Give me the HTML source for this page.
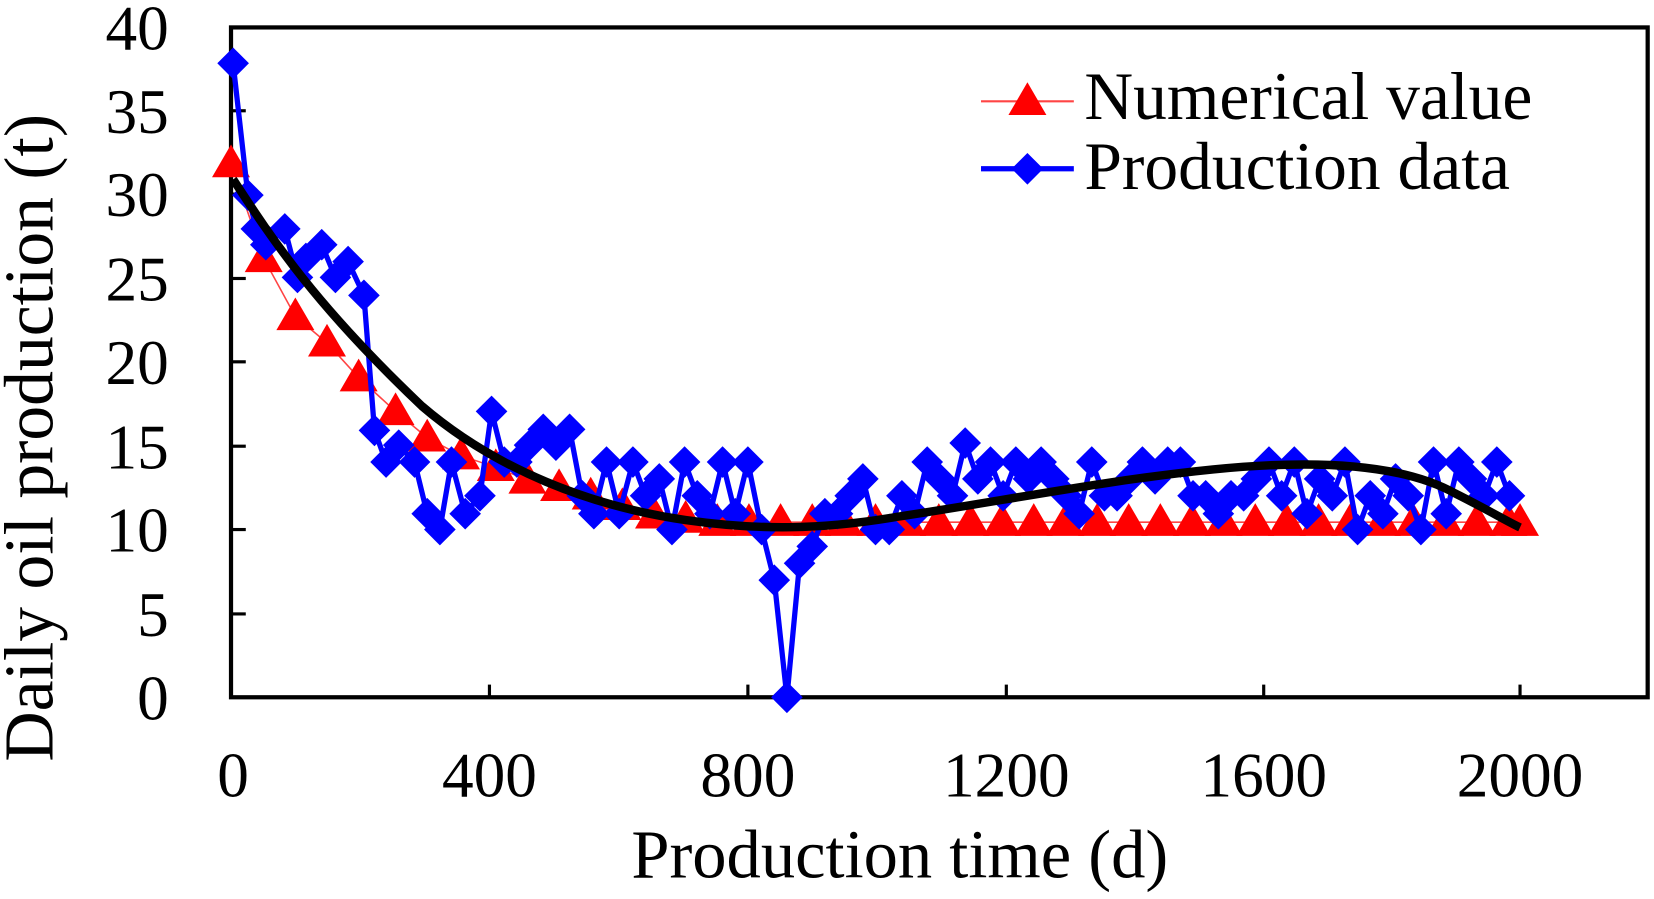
<!DOCTYPE html>
<html><head><style>body{margin:0;background:#fff}</style></head><body>
<svg width="1654" height="894" viewBox="0 0 1568 847.5" preserveAspectRatio="none" xmlns="http://www.w3.org/2000/svg" font-family="Liberation Serif, serif">
<rect x="219" y="26" width="1343" height="635" fill="none" stroke="#000" stroke-width="4"/>
<g stroke="#000" stroke-width="3">
<line x1="219" y1="105" x2="233" y2="105"/><line x1="219" y1="184" x2="233" y2="184"/><line x1="219" y1="264" x2="233" y2="264"/><line x1="219" y1="343" x2="233" y2="343"/><line x1="219" y1="423" x2="233" y2="423"/><line x1="219" y1="502" x2="233" y2="502"/><line x1="219" y1="582" x2="233" y2="582"/>
<line x1="464" y1="661" x2="464" y2="649"/><line x1="709" y1="661" x2="709" y2="649"/><line x1="954" y1="661" x2="954" y2="649"/><line x1="1198" y1="661" x2="1198" y2="649"/><line x1="1441" y1="661" x2="1441" y2="649"/>
</g>
<g font-size="60" text-anchor="end">
<text x="160" y="47">40</text><text x="160" y="126">35</text><text x="160" y="205">30</text><text x="160" y="285">25</text><text x="160" y="364">20</text><text x="160" y="444">15</text><text x="160" y="523">10</text><text x="160" y="603">5</text><text x="160" y="682">0</text>
</g>
<g font-size="60" text-anchor="middle">
<text x="221" y="755">0</text><text x="464" y="755">400</text><text x="709" y="755">800</text><text x="954" y="755">1200</text><text x="1198" y="755">1600</text><text x="1441" y="755">2000</text>
</g>
<text x="853" y="832" font-size="65" text-anchor="middle">Production time (d)</text>
<text transform="translate(50,415) rotate(-90)" font-size="66" text-anchor="middle">Daily oil production (t)</text>
<defs>
<path id="tri" d="M0,-18 L18,13 L-18,13 Z" fill="#f00"/>
<path id="dia" d="M0,-15 L15,0 L0,15 L-15,0 Z" fill="#00f"/>
</defs>
<polyline fill="none" stroke="#f44" stroke-width="1.5" points="219,155 250,245 280,300 310,325 340,358 375,390 405,415 437,432 470,443 500,455 530,462 560,470 590,480 620,488 650,492 680,495 1441,495"/>
<g>
<use href="#tri" x="219" y="155"/><use href="#tri" x="250" y="245"/><use href="#tri" x="280" y="300"/><use href="#tri" x="310" y="325"/><use href="#tri" x="340" y="358"/><use href="#tri" x="375" y="390"/><use href="#tri" x="405" y="415"/><use href="#tri" x="437" y="432"/><use href="#tri" x="470" y="443"/><use href="#tri" x="500" y="455"/><use href="#tri" x="530" y="462"/><use href="#tri" x="560" y="470"/><use href="#tri" x="590" y="480"/><use href="#tri" x="620" y="488"/><use href="#tri" x="650" y="492"/><use href="#tri" x="680" y="495"/>
<use href="#tri" x="710" y="495"/><use href="#tri" x="740" y="495"/><use href="#tri" x="770" y="495"/><use href="#tri" x="800" y="495"/><use href="#tri" x="830" y="495"/><use href="#tri" x="860" y="495"/><use href="#tri" x="890" y="495"/><use href="#tri" x="920" y="495"/><use href="#tri" x="950" y="495"/><use href="#tri" x="980" y="495"/><use href="#tri" x="1010" y="495"/><use href="#tri" x="1040" y="495"/><use href="#tri" x="1070" y="495"/><use href="#tri" x="1100" y="495"/><use href="#tri" x="1130" y="495"/><use href="#tri" x="1160" y="495"/><use href="#tri" x="1190" y="495"/><use href="#tri" x="1220" y="495"/><use href="#tri" x="1250" y="495"/><use href="#tri" x="1280" y="495"/><use href="#tri" x="1310" y="495"/><use href="#tri" x="1340" y="495"/><use href="#tri" x="1370" y="495"/><use href="#tri" x="1400" y="495"/><use href="#tri" x="1430" y="495"/><use href="#tri" x="1441" y="495"/>
</g>
<polyline fill="none" stroke="#00f" stroke-width="5" stroke-linejoin="round" points="221,60 235,185 243,217 252,232 270,217 282,263 290,245 305,232 318,263 330,248 345,280 355,408 366,438 378,422 393,438 405,487 417,502 428,438 441,487 455,470 466,390 478,438 490,438 502,422 515,407 527,422 540,407 552,470 563,487 575,438 587,487 600,438 612,470 625,454 637,502 649,438 661,470 673,487 685,438 697,487 709,438 722,502 734,550 746,661 758,534 770,518 782,487 794,487 806,470 818,454 830,502 843,502 855,470 867,487 879,438 891,454 903,470 915,420 927,454 939,438 951,470 963,438 975,454 987,438 999,454 1011,470 1023,487 1035,438 1047,470 1059,470 1071,454 1083,438 1095,454 1107,438 1119,438 1131,470 1143,470 1155,487 1167,470 1179,470 1191,454 1203,438 1215,470 1227,438 1239,487 1251,454 1263,470 1275,438 1287,502 1299,470 1311,487 1323,454 1335,470 1347,502 1359,438 1371,487 1383,438 1395,454 1407,470 1419,438 1431,470"/>
<g>
<use href="#dia" x="221" y="60"/><use href="#dia" x="235" y="185"/><use href="#dia" x="243" y="217"/><use href="#dia" x="252" y="232"/><use href="#dia" x="270" y="217"/><use href="#dia" x="282" y="263"/><use href="#dia" x="290" y="245"/><use href="#dia" x="305" y="232"/><use href="#dia" x="318" y="263"/><use href="#dia" x="330" y="248"/><use href="#dia" x="345" y="280"/><use href="#dia" x="355" y="408"/><use href="#dia" x="366" y="438"/><use href="#dia" x="378" y="422"/><use href="#dia" x="393" y="438"/><use href="#dia" x="405" y="487"/><use href="#dia" x="417" y="502"/><use href="#dia" x="428" y="438"/><use href="#dia" x="441" y="487"/><use href="#dia" x="455" y="470"/><use href="#dia" x="466" y="390"/><use href="#dia" x="478" y="438"/><use href="#dia" x="490" y="438"/><use href="#dia" x="502" y="422"/><use href="#dia" x="515" y="407"/><use href="#dia" x="527" y="422"/><use href="#dia" x="540" y="407"/><use href="#dia" x="552" y="470"/><use href="#dia" x="563" y="487"/><use href="#dia" x="575" y="438"/><use href="#dia" x="587" y="487"/><use href="#dia" x="600" y="438"/><use href="#dia" x="612" y="470"/><use href="#dia" x="625" y="454"/><use href="#dia" x="637" y="502"/><use href="#dia" x="649" y="438"/><use href="#dia" x="661" y="470"/><use href="#dia" x="673" y="487"/><use href="#dia" x="685" y="438"/><use href="#dia" x="697" y="487"/><use href="#dia" x="709" y="438"/><use href="#dia" x="722" y="502"/><use href="#dia" x="734" y="550"/><use href="#dia" x="746" y="661"/><use href="#dia" x="758" y="534"/><use href="#dia" x="770" y="518"/><use href="#dia" x="782" y="487"/><use href="#dia" x="794" y="487"/><use href="#dia" x="806" y="470"/><use href="#dia" x="818" y="454"/><use href="#dia" x="830" y="502"/><use href="#dia" x="843" y="502"/><use href="#dia" x="855" y="470"/><use href="#dia" x="867" y="487"/><use href="#dia" x="879" y="438"/><use href="#dia" x="891" y="454"/><use href="#dia" x="903" y="470"/><use href="#dia" x="915" y="420"/><use href="#dia" x="927" y="454"/><use href="#dia" x="939" y="438"/><use href="#dia" x="951" y="470"/><use href="#dia" x="963" y="438"/><use href="#dia" x="975" y="454"/><use href="#dia" x="987" y="438"/><use href="#dia" x="999" y="454"/><use href="#dia" x="1011" y="470"/><use href="#dia" x="1023" y="487"/><use href="#dia" x="1035" y="438"/><use href="#dia" x="1047" y="470"/><use href="#dia" x="1059" y="470"/><use href="#dia" x="1071" y="454"/><use href="#dia" x="1083" y="438"/><use href="#dia" x="1095" y="454"/><use href="#dia" x="1107" y="438"/><use href="#dia" x="1119" y="438"/><use href="#dia" x="1131" y="470"/><use href="#dia" x="1143" y="470"/><use href="#dia" x="1155" y="487"/><use href="#dia" x="1167" y="470"/><use href="#dia" x="1179" y="470"/><use href="#dia" x="1191" y="454"/><use href="#dia" x="1203" y="438"/><use href="#dia" x="1215" y="470"/><use href="#dia" x="1227" y="438"/><use href="#dia" x="1239" y="487"/><use href="#dia" x="1251" y="454"/><use href="#dia" x="1263" y="470"/><use href="#dia" x="1275" y="438"/><use href="#dia" x="1287" y="502"/><use href="#dia" x="1299" y="470"/><use href="#dia" x="1311" y="487"/><use href="#dia" x="1323" y="454"/><use href="#dia" x="1335" y="470"/><use href="#dia" x="1347" y="502"/><use href="#dia" x="1359" y="438"/><use href="#dia" x="1371" y="487"/><use href="#dia" x="1383" y="438"/><use href="#dia" x="1395" y="454"/><use href="#dia" x="1407" y="470"/><use href="#dia" x="1419" y="438"/><use href="#dia" x="1431" y="470"/>
</g>
<path d="M221,170 C260,230 300,290 400,385 C470,445 560,480 650,493 C720,503 780,502 850,490 C950,475 1050,455 1150,445 C1250,435 1330,440 1380,468 C1410,483 1430,495 1441,500" fill="none" stroke="#000" stroke-width="8"/>
<line x1="930" y1="96" x2="1018" y2="96" stroke="#f44" stroke-width="2"/>
<use href="#tri" x="974" y="96"/>
<line x1="930" y1="160" x2="1018" y2="160" stroke="#00f" stroke-width="5"/>
<use href="#dia" x="974" y="160"/>
<text x="1028" y="113" font-size="64">Numerical value</text>
<text x="1028" y="179" font-size="64">Production data</text>
</svg>
</body></html>
